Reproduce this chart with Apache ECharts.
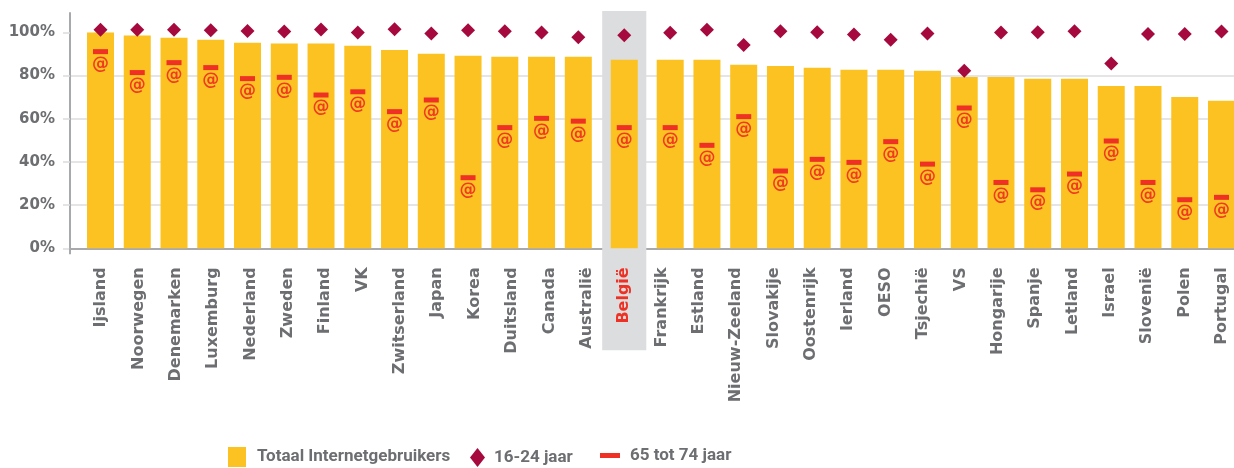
<!DOCTYPE html>
<html>
<head>
<meta charset="utf-8">
<script src="https://cdn.jsdelivr.net/npm/echarts@6.0.0/dist/echarts.min.js"></script>
<style>
  html, body { margin: 0; padding: 0; background: #ffffff; }
  #chart { width: 1234px; height: 468px; }
</style>
</head>
<body>
<div id="chart"></div>
<script>
// Countries, sorted by total share of internet users
const countries = ['Ijsland', 'Noorwegen', 'Denemarken', 'Luxemburg', 'Nederland', 'Zweden', 'Finland', 'VK',
  'Zwitserland', 'Japan', 'Korea', 'Duitsland', 'Canada', 'Australië', 'België', 'Frankrijk', 'Estland',
  'Nieuw-Zeeland', 'Slovakije', 'Oostenrijk', 'Ierland', 'OESO', 'Tsjechië', 'VS', 'Hongarije', 'Spanje',
  'Letland', 'Israel', 'Slovenië', 'Polen', 'Portugal'];

// Totaal Internetgebruikers (%)
const totaal = [100, 98.6, 97.5, 96.6, 95.2, 94.9, 94.9, 93.8, 91.9, 90.1, 89.2, 88.7, 88.7, 88.7, 87.3,
  87.3, 87.3, 85.0, 84.5, 83.6, 82.7, 82.7, 82.2, 79.4, 79.4, 78.5, 78.5, 75.2, 75.2, 70.1, 68.3];

// 16-24 jaar (%)
const jong = [101.2, 101.2, 101.2, 101.0, 100.7, 100.4, 101.4, 100.0, 101.5, 99.5, 101.0, 100.6, 100.0, 97.8,
  98.7, 99.8, 101.2, 94.2, 100.6, 100.1, 99.0, 96.6, 99.5, 82.3, 100.0, 100.1, 100.6, 85.6, 99.3, 99.3, 100.4];

// 65 tot 74 jaar (%)
const oud = [91.1, 81.4, 86.0, 83.7, 78.6, 79.2, 71.0, 72.5, 63.3, 68.7, 32.7, 55.9, 60.2, 58.9, 55.9,
  55.9, 47.7, 61.0, 35.8, 41.2, 39.8, 49.4, 39.0, 65.0, 30.5, 27.1, 34.4, 49.7, 30.5, 22.5, 23.6];

const yTicks = [0, 20, 40, 60, 80, 100];
const highlight = 'België';

const seriesNames = ['Totaal Internetgebruikers', '16-24 jaar', '65 tot 74 jaar'];

// ---- layout helpers ----
const Y_MAX = 109;
const X_MIN = -0.83, X_MAX = 30.84;
const hi = countries.indexOf(highlight);
// the highlighted country gets a little extra room on both sides
function slot(i) {
  if (i < hi) return i;
  if (i === hi) return i + 0.25;
  return i + 0.5;
}

const GREY = '#6d6e71';
const YELLOW = '#fcc221';
const WINE = '#a6093d';
const RED = '#ee3124';
const LEGEND_FONT = { color: GREY, fontFamily: 'Roboto', fontWeight: 'bold', fontSize: 17 };

const chart = echarts.init(document.getElementById('chart'), null, { renderer: 'canvas' });

const labelData = countries.map(c => c === highlight
  ? { value: c, textStyle: { color: RED } }
  : c);

const hidden = {
  axisLine: { show: false }, axisTick: { show: false },
  axisLabel: { show: false }, splitLine: { show: false }, splitArea: { show: false }
};

const option = {
  animation: false,
  backgroundColor: '#ffffff',
  grid: [
    { left: 70, right: 0, top: 13, bottom: 219.7 },
    { left: 101, right: 12, top: 13, bottom: 219.7 }
  ],
  xAxis: [
    {
      type: 'value', gridIndex: 0, min: X_MIN, max: X_MAX,
      axisLine: { show: true, onZero: false, lineStyle: { color: '#a7a9ac', width: 2 } },
      axisTick: { show: true, customValues: [X_MIN], length: 6, lineStyle: { color: '#a7a9ac', width: 2 } },
      axisLabel: { show: false },
      splitLine: { show: false }
    },
    {
      type: 'category', gridIndex: 1, boundaryGap: false, data: labelData, z: 10,
      axisLine: { show: false }, axisTick: { show: false }, splitLine: { show: false },
      axisLabel: {
        interval: 0, rotate: 90, margin: 19,
        color: GREY, fontFamily: 'DejaVu Sans', fontWeight: 'bold', fontSize: 16
      }
    }
  ],
  yAxis: [
    {
      type: 'value', gridIndex: 0, min: 0, max: Y_MAX, interval: 20,
      axisLine: { show: true, onZero: false, lineStyle: { color: '#a7a9ac', width: 2 } },
      axisTick: { show: true, customValues: yTicks, length: 7, lineStyle: { color: '#dcdcdc', width: 1.5 } },
      axisLabel: {
        customValues: yTicks, margin: 15,
        formatter: v => v + '%',
        color: GREY, fontFamily: 'DejaVu Sans', fontWeight: 'bold', fontSize: 15
      },
      splitLine: { show: true, showMinLine: false, showMaxLine: false, lineStyle: { color: '#dcdcdc', width: 1.5 } }
    },
    Object.assign({ type: 'value', gridIndex: 1, min: 0, max: Y_MAX, show: false }, hidden)
  ],
  legend: [
    {
      data: [seriesNames[0]], left: 228, top: 447, padding: 0, icon: 'rect', itemWidth: 18, itemHeight: 20,
      symbolKeepAspect: false, selectedMode: false,
      textStyle: Object.assign({ padding: [0, 0, 0, 6] }, LEGEND_FONT)
    },
    {
      data: [seriesNames[1]], left: 470, top: 448, padding: 0, icon: 'diamond', itemWidth: 15, itemHeight: 19,
      symbolKeepAspect: false, selectedMode: false,
      textStyle: Object.assign({ padding: [0, 0, 0, 4] }, LEGEND_FONT)
    },
    {
      data: [seriesNames[2]], left: 600, top: 447, padding: 0, icon: 'rect', itemWidth: 20, itemHeight: 5,
      symbolKeepAspect: false, selectedMode: false,
      textStyle: Object.assign({ padding: [0, 0, 0, 5] }, LEGEND_FONT)
    }
  ],
  series: [
    {
      // shaded column behind the highlighted country
      type: 'custom', name: 'highlight', xAxisIndex: 0, yAxisIndex: 0, z: 1, silent: true,
      data: [[slot(hi), 0]],
      renderItem: (params, api) => {
        const top = api.coord([api.value(0), Y_MAX]);
        const base = api.coord([api.value(0), 0]);
        const half = api.size([0.6, 0])[0];
        return {
          type: 'rect',
          shape: { x: top[0] - half, y: top[1] - 2, width: half * 2, height: base[1] + 102 - (top[1] - 2) },
          style: { fill: '#dcddde' }
        };
      }
    },
    {
      name: seriesNames[0], type: 'bar', xAxisIndex: 0, yAxisIndex: 0, z: 2,
      barWidth: 27,
      itemStyle: { color: YELLOW },
      data: totaal.map((v, i) => [slot(i), v])
    },
    {
      name: seriesNames[1], type: 'scatter', xAxisIndex: 0, yAxisIndex: 0, z: 4,
      symbol: 'diamond', symbolSize: 14,
      itemStyle: { color: WINE, opacity: 1 },
      data: jong.map((v, i) => [slot(i), v])
    },
    {
      name: seriesNames[2], type: 'scatter', xAxisIndex: 0, yAxisIndex: 0, z: 3,
      symbol: 'rect', symbolSize: [15, 5],
      itemStyle: { color: RED, opacity: 1 },
      label: {
        show: true, position: 'bottom', distance: 2, formatter: '@',
        color: '#ef3b24', fontFamily: 'DejaVu Sans', fontWeight: 'bold', fontSize: 17
      },
      data: oud.map((v, i) => [slot(i), v])
    }
  ]
};

chart.setOption(option);
</script>
</body>
</html>
